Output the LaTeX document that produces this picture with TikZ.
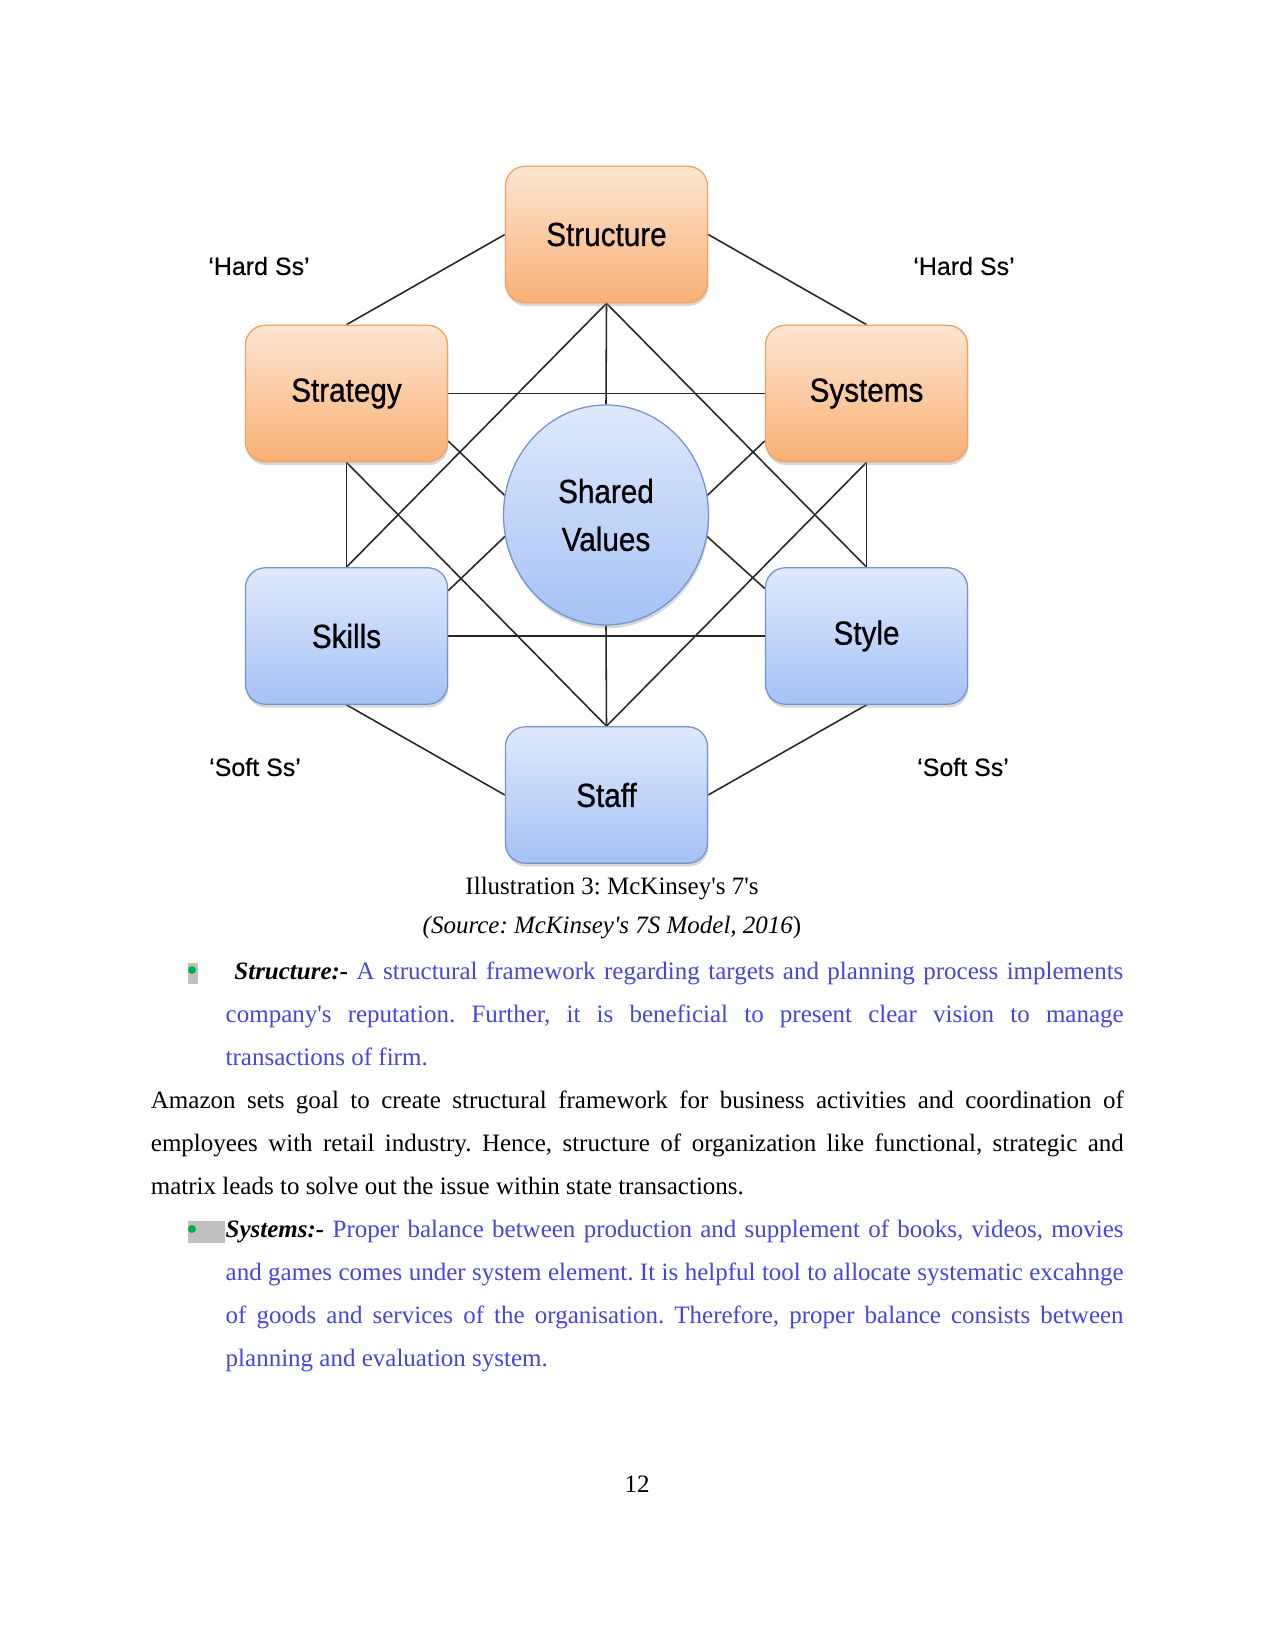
\documentclass[tikz,border=0pt]{standalone}
\usepackage{fontspec}
\setmainfont{Liberation Serif}[Ligatures=TeXOff]
\newfontfamily\diagfont{Liberation Sans}[FakeStretch=0.89,FakeBold=0.7]
\newfontfamily\labfont{Liberation Sans}[FakeBold=0.3]
\usetikzlibrary{shapes.geometric,shadows}
\pgfdeclarelayer{bg}
\pgfsetlayers{bg,main}
\definecolor{orTop}{HTML}{FDE6D2}
\definecolor{orBot}{HTML}{F9B075}
\definecolor{orDraw}{HTML}{F0A25E}
\definecolor{blTop}{HTML}{DFE9FD}
\definecolor{blBot}{HTML}{A5C2F4}
\definecolor{blDraw}{HTML}{7392CF}
\definecolor{bodyblue}{HTML}{4646DC}
\definecolor{bulletgray}{HTML}{C0C0C0}
\definecolor{bulletgreen}{HTML}{00B050}
\frenchspacing
\begin{document}
\begin{tikzpicture}[x=0.48pt,y=-0.48pt,
  sbox/.style={rectangle, rounded corners=9.5pt, minimum width=97pt, minimum height=65.5pt,
    inner sep=0pt, line width=0.6pt, font=\diagfont\fontsize{16}{19}\selectfont,
    drop shadow={shadow xshift=0.4pt, shadow yshift=-1.6pt, opacity=0.3}},
  hardbox/.style={sbox, draw=orDraw, top color=orTop, bottom color=orBot},
  softbox/.style={sbox, draw=blDraw, top color=blTop, bottom color=blBot},
  link/.style={draw=black!85, line width=0.75pt},
  lab/.style={font=\labfont\fontsize{12}{14}\selectfont, inner sep=0pt},
  txt/.style={anchor=base west, inner sep=0pt, font=\fontsize{12}{14}\selectfont},
  bulletbox/.style={fill=bulletgray, inner sep=0pt, draw=none},
  bulletdot/.style={circle, fill=bulletgreen, inner sep=0pt, minimum size=3.8pt},
]
\useasboundingbox (0,0) rectangle (1275,1651);
\begin{pgfonlayer}{bg}
\fill[white] (0,0) rectangle (1275,1651);
\end{pgfonlayer}

% nodes of the 7S model
\node[hardbox] (struct) at (606.5,234.5) {Structure};
\node[hardbox] (strat) at (346.5,393.5) {Strategy};
\node[hardbox] (syst) at (866.5,393.5) {Systems};
\node[softbox] (skills) at (346.5,636) {Skills};
\node[softbox] (style) at (866.5,636) {Style};
\node[softbox] (staff) at (606.5,795) {Staff};
\node[ellipse, draw=blDraw, line width=0.6pt, top color=blTop, bottom color=blBot,
  minimum width=98.4pt, minimum height=105.6pt, inner sep=0pt, align=center,
  font=\diagfont\fontsize{16}{23}\selectfont,
  drop shadow={shadow xshift=0.4pt, shadow yshift=-1.6pt, opacity=0.3}] (sv) at (606,515) {Shared\\Values};

% labels
\node[lab] (hl) at (259,266) {‘Hard Ss’};
\node[lab] (hr) at (964,266) {‘Hard Ss’};
\node[lab] (sl) at (255,767) {‘Soft Ss’};
\node[lab] (sr) at (963,767) {‘Soft Ss’};

% connectors
\begin{pgfonlayer}{bg}
\draw[link] (struct.west) -- (strat.north);
\draw[link] (struct.east) -- (syst.north);
\draw[link] (syst.south) -- (style.north);
\draw[link] (style.south) -- (staff.east);
\draw[link] (staff.west) -- (skills.south);
\draw[link] (skills.north) -- (strat.south);
\draw[link] (strat.east) -- (syst.west);
\draw[link] (skills.east) -- (style.west);
\draw[link] (struct.south) -- (sv.north);
\draw[link] (sv.south) -- (staff.north);
\draw[link] (struct.south) -- (skills.north);
\draw[link] (struct.south) -- (style.north);
\draw[link] (staff.north) -- (strat.south);
\draw[link] (staff.north) -- (syst.south);
\draw[link] (strat.-25.6) -- (sv.169);
\draw[link] (skills.24.5) -- (sv.192);
\draw[link] (syst.205.3) -- (sv.11);
\draw[link] (style.155.6) -- (sv.-12);
\end{pgfonlayer}

% caption
\node[txt, anchor=base] (cap) at (612,894) {Illustration 3: McKinsey's 7's};
\node[txt, anchor=base] (src) at (612,933) {\textit{(Source: McKinsey's 7S Model, 2016})};

% item 1
\node[bulletbox, minimum width=4.7pt, minimum height=10.1pt] (b1) at (193,973.5) {};
\node[bulletdot] (d1) at (192,970) {};
\node[txt] (i1a) at (234,979) {\makebox[426.7pt][s]{\textbf{\textit{Structure:-}} \textcolor{bodyblue}{A structural framework regarding targets and planning process implements}}};
\node[txt] (i1b) at (225.3,1022) {\makebox[431pt][s]{\textcolor{bodyblue}{company's reputation. Further, it is beneficial to present clear vision to manage}}};
\node[txt] (i1c) at (225.3,1065) {\textcolor{bodyblue}{transactions of firm.}};

% paragraph
\node[txt] (p1) at (150.5,1108) {\makebox[467pt][s]{Amazon sets goal to create structural framework for business activities and coordination of}};
\node[txt] (p2) at (150.5,1151) {\makebox[467pt][s]{employees with retail industry. Hence, structure of organization like functional, strategic and}};
\node[txt] (p3) at (150.5,1194) {matrix leads to solve out the issue within state transactions.};

% item 2
\node[bulletbox, minimum width=17.8pt, minimum height=10.4pt] (b2) at (206.5,1232) {};
\node[bulletdot] (d2) at (192,1229) {};
\node[txt] (i2a) at (225.3,1237) {\makebox[431pt][s]{\textbf{\textit{Systems:-}} \textcolor{bodyblue}{Proper balance between production and supplement of books, videos, movies}}};
\node[txt] (i2b) at (225.3,1280) {\makebox[431pt][s]{\textcolor{bodyblue}{and games comes under system element. It is helpful tool to allocate systematic excahnge}}};
\node[txt] (i2c) at (225.3,1323) {\makebox[431pt][s]{\textcolor{bodyblue}{of goods and services of the organisation. Therefore, proper balance consists between}}};
\node[txt] (i2d) at (225.3,1366) {\textcolor{bodyblue}{planning and evaluation system.}};

% page number
\node[txt, anchor=base] (pg) at (637,1492) {12};
\end{tikzpicture}
\end{document}
